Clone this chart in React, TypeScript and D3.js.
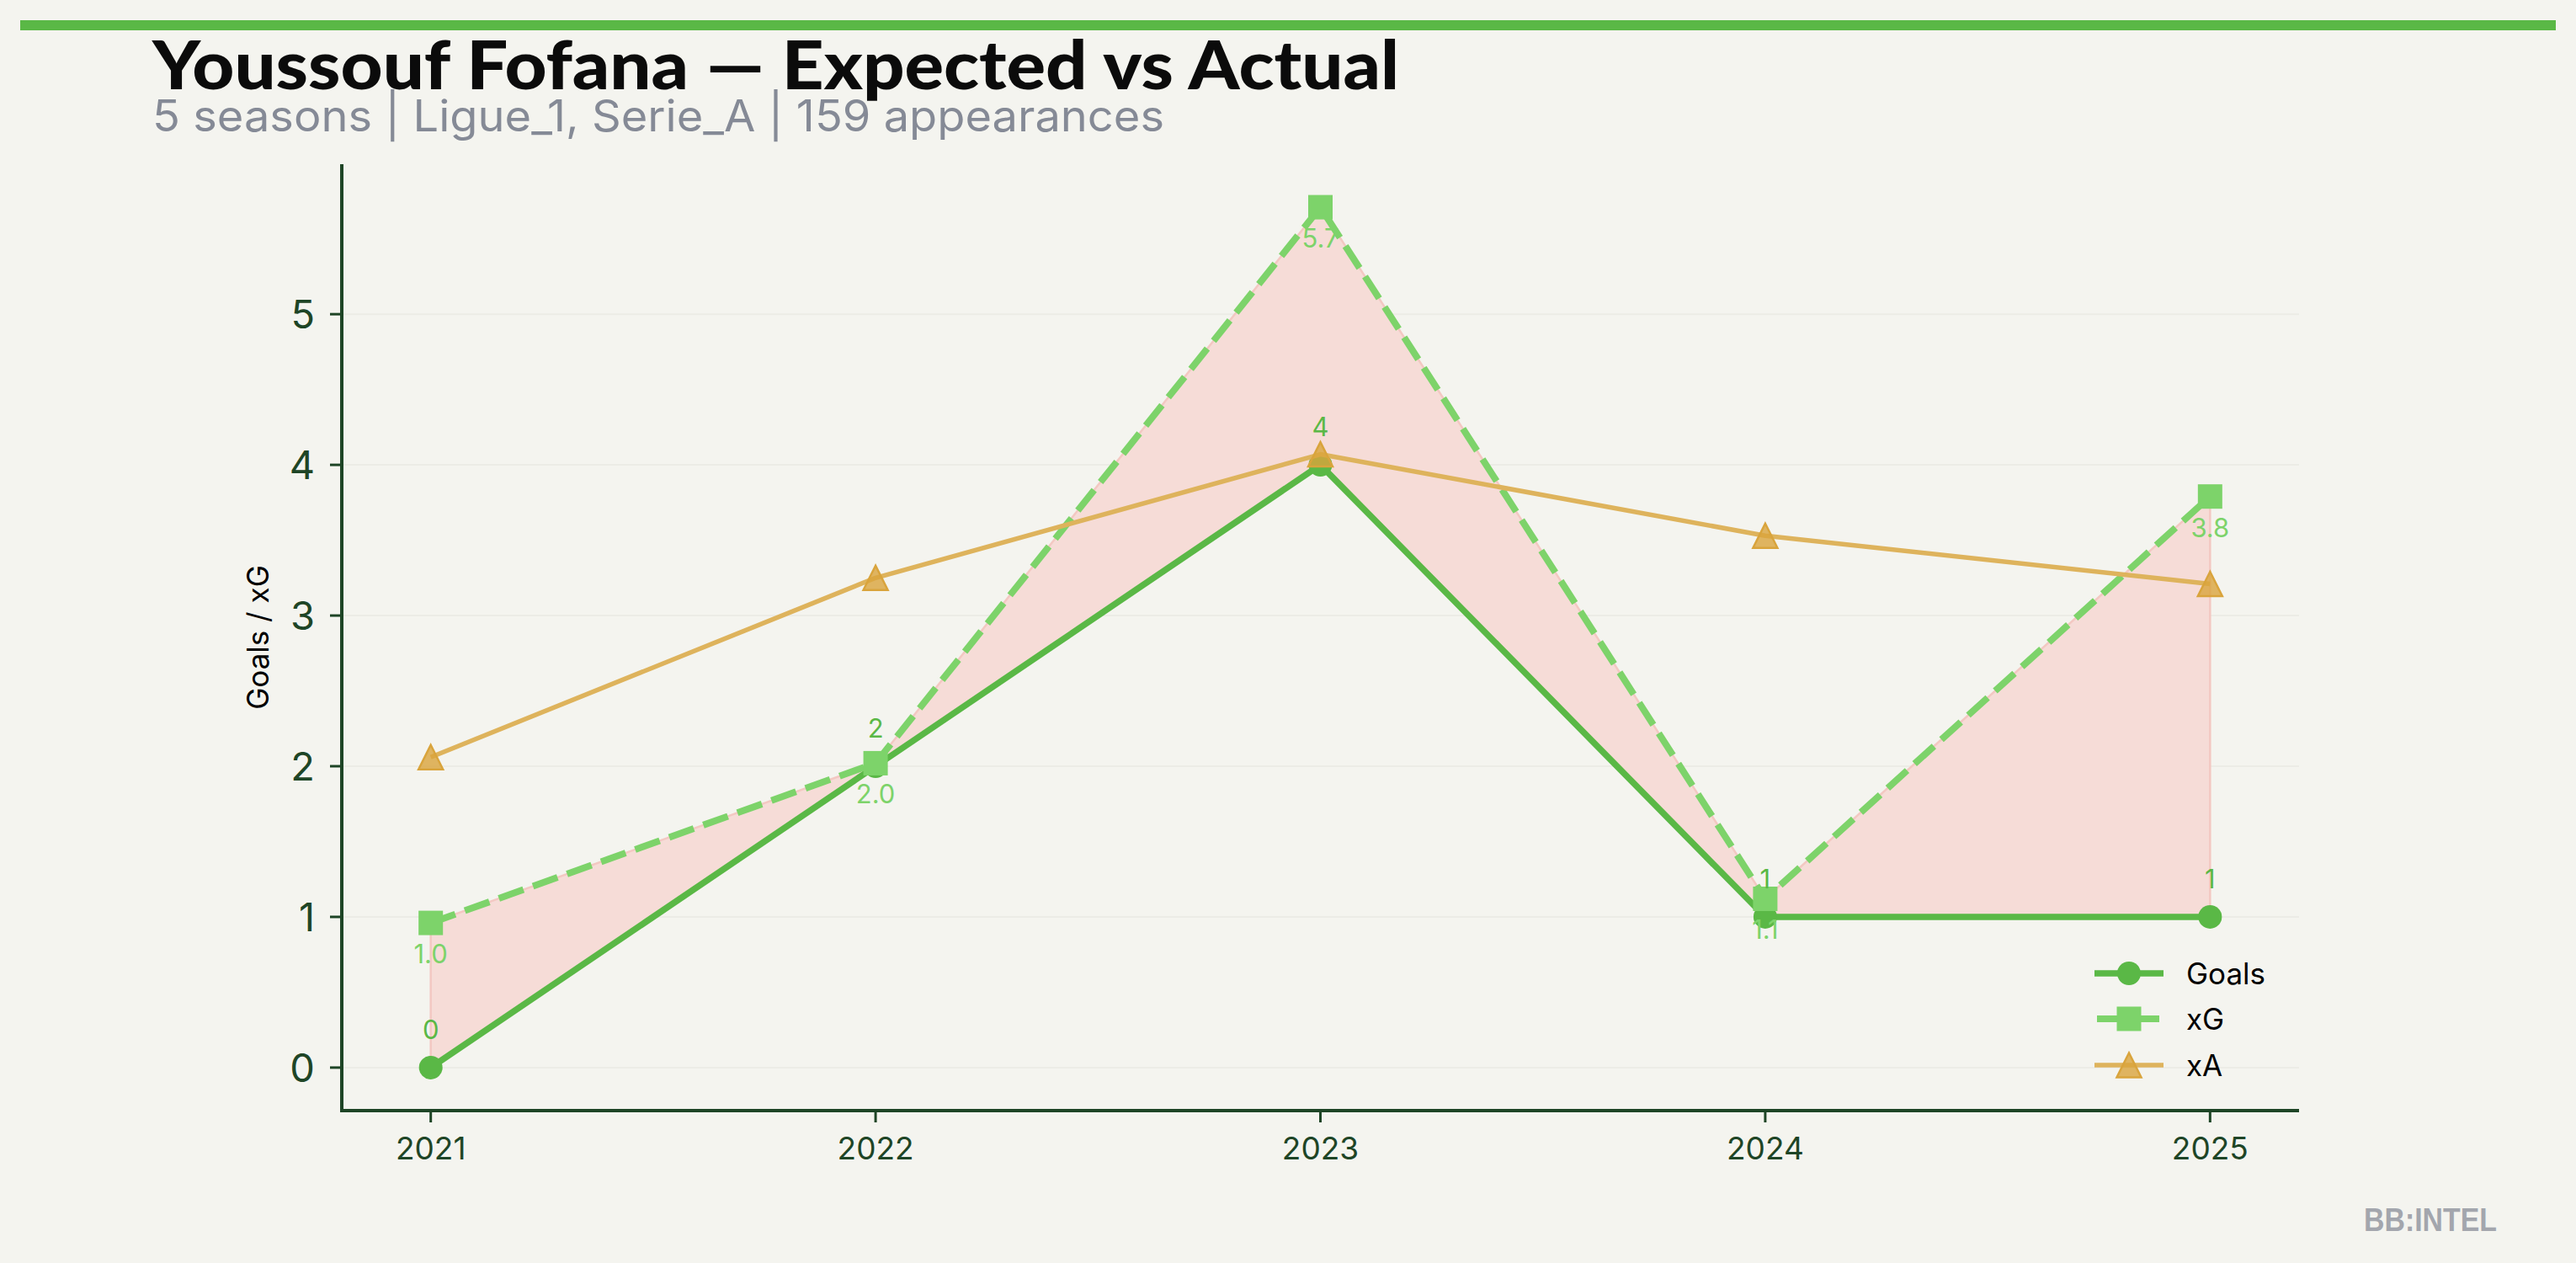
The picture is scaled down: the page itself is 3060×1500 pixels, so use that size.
import React from "react";
import * as d3 from "d3";

const YEARS = [2021, 2022, 2023, 2024, 2025];
const GOALS = [0, 2, 4, 1, 1];
const XG = [0.96, 2.02, 5.71, 1.12, 3.79];
const XA = [2.06, 3.25, 4.07, 3.53, 3.21];
const Y_TICKS = [0, 1, 2, 3, 4, 5];
const TITLE = "Youssouf Fofana — Expected vs Actual";
const SUBTITLE = "5 seasons | Ligue_1, Serie_A | 159 appearances";
const SERIES_NAMES = ["Goals", "xG", "xA"];

const W = 3060;
const H = 1500;
const BG = "#f4f4ef";
const C_GOALS = "#5ab846";
const C_XG = "#7dd36a";
const C_XA = "#deb35c";
const C_XA_MARK = "#d9a43c";
const AXIS = "#1e4526";
const FONT = "Inter, Roboto, 'Noto Sans', sans-serif";

export default function App() {
  const left = 406, right = 2731, top = 195, bottom = 1319;
  const allVals = [...GOALS, ...XG, ...XA];
  const lo = Math.min(...allVals), hi = Math.max(...allVals);
  const pad = (hi - lo) * 0.05;
  const y = d3.scaleLinear().domain([lo - pad, hi + pad]).range([bottom, top]);
  const xPad = (YEARS[YEARS.length - 1] - YEARS[0]) * 0.05;
  const x = d3.scaleLinear().domain([YEARS[0] - xPad, YEARS[YEARS.length - 1] + xPad]).range([left, right]);

  const line = d3.line<[number, number]>().x(d => x(d[0])).y(d => y(d[1]));
  const goalsPts: [number, number][] = YEARS.map((yr, i) => [yr, GOALS[i]]);
  const xgPts: [number, number][] = YEARS.map((yr, i) => [yr, XG[i]]);
  const xaPts: [number, number][] = YEARS.map((yr, i) => [yr, XA[i]]);
  const area = d3.area<number>()
    .x((_, i) => x(YEARS[i]))
    .y0((_, i) => y(GOALS[i]))
    .y1((_, i) => y(XG[i]));

  const tri = (cx: number, cy: number, s: number) =>
    `M${cx},${cy - s} L${cx - s},${cy + s} L${cx + s},${cy + s} Z`;

  const legendX0 = 2488, legendX1 = 2570, legendMid = 2529, legendText = 2597;
  const legendYs = [1156, 1210, 1265];
  const dash = "31,12";

  return (
    <svg width={W} height={H} style={{ position: "absolute", left: 0, top: 0 }} xmlns="http://www.w3.org/2000/svg">
      <defs>
        <clipPath id="clip1115">
          <rect x={0} y={0} width={W} height={1115} />
        </clipPath>
      </defs>
      <rect x={0} y={0} width={W} height={H} fill={BG} />
      <rect x={24} y={24} width={W - 48} height={12} fill={C_GOALS} />

      <text x={181} y={106} fontFamily="Lato, 'DejaVu Sans', sans-serif" fontWeight={900} fontSize={80}
        fill="#0b0b0b" textLength={1481} lengthAdjust="spacingAndGlyphs">{TITLE}</text>
      <text x={181} y={156} fontFamily={FONT} fontSize={52} fill="#858a96"
        textLength={1202} lengthAdjust="spacingAndGlyphs">{SUBTITLE}</text>

      {/* grid */}
      {Y_TICKS.map(t => (
        <line key={"g" + t} x1={left} x2={right} y1={y(t)} y2={y(t)} stroke="#ecece6" strokeWidth={2} />
      ))}

      {/* fill between */}
      <path d={area(YEARS.map((_, i) => i)) || ""} fill="#f6dcd7" stroke="#f3c8c2" strokeWidth={2.5} />

      {/* Goals */}
      <path d={line(goalsPts) || ""} fill="none" stroke={C_GOALS} strokeWidth={7.5} strokeLinejoin="round" />
      {goalsPts.map((p, i) => (
        <circle key={"gc" + i} cx={x(p[0])} cy={y(p[1])} r={14} fill={C_GOALS} />
      ))}

      {/* xG */}
      <path d={line(xgPts) || ""} fill="none" stroke={C_XG} strokeWidth={8} strokeDasharray={dash} />
      {xgPts.map((p, i) => (
        <rect key={"xs" + i} x={x(p[0]) - 14.5} y={y(p[1]) - 14.5} width={29} height={29} fill={C_XG} />
      ))}

      {/* xA */}
      <path d={line(xaPts) || ""} fill="none" stroke={C_XA} strokeWidth={5.5} strokeLinejoin="round" />
      {xaPts.map((p, i) => (
        <path key={"xt" + i} d={tri(x(p[0]), y(p[1]), 14.5)} fill={C_XA_MARK} fillOpacity={0.8}
          stroke={C_XA_MARK} strokeWidth={2.5} strokeLinejoin="miter" />
      ))}

      {/* labels */}
      {goalsPts.map((p, i) => (
        <text key={"gl" + i} x={x(p[0])} y={y(p[1]) - 34} textAnchor="middle" fontFamily={FONT}
          fontSize={31} fill={C_GOALS}>{String(GOALS[i])}</text>
      ))}
      {xgPts.map((p, i) => (
        <text key={"xl" + i} x={x(p[0])} y={y(p[1]) + 48} textAnchor="middle" fontFamily={FONT}
          fontSize={31} fill={C_XG} clipPath={YEARS[i] === 2024 ? "url(#clip1115)" : undefined}>
          {XG[i].toFixed(1)}
        </text>
      ))}

      {/* axes */}
      <line x1={left} x2={left} y1={top} y2={bottom} stroke={AXIS} strokeWidth={4} />
      <line x1={left - 2} x2={right} y1={bottom} y2={bottom} stroke={AXIS} strokeWidth={4} />
      {Y_TICKS.map(t => (
        <g key={"yt" + t}>
          <line x1={left - 14} x2={left} y1={y(t)} y2={y(t)} stroke={AXIS} strokeWidth={3} />
          <text x={374} y={y(t) + 17} textAnchor="end" fontFamily={FONT} fontSize={47} fill={AXIS}>{t}</text>
        </g>
      ))}
      {YEARS.map(yr => (
        <g key={"xt" + yr}>
          <line x1={x(yr)} x2={x(yr)} y1={bottom} y2={bottom + 14} stroke={AXIS} strokeWidth={3} />
          <text x={x(yr)} y={1377} textAnchor="middle" fontFamily={FONT} fontSize={37} fill={AXIS}>{yr}</text>
        </g>
      ))}
      <text transform={`translate(319,${(top + bottom) / 2}) rotate(-90)`} textAnchor="middle"
        fontFamily={FONT} fontSize={35} fill="#000">Goals / xG</text>

      {/* legend */}
      <g>
        <line x1={legendX0} x2={legendX1} y1={legendYs[0]} y2={legendYs[0]} stroke={C_GOALS} strokeWidth={7.5} />
        <circle cx={legendMid} cy={legendYs[0]} r={14} fill={C_GOALS} />
        <line x1={legendX0 + 3} x2={legendX1 - 4} y1={legendYs[1]} y2={legendYs[1]} stroke={C_XG} strokeWidth={8} strokeDasharray={dash} />
        <rect x={legendMid - 14.5} y={legendYs[1] - 14.5} width={29} height={29} fill={C_XG} />
        <line x1={legendX0} x2={legendX1} y1={legendYs[2]} y2={legendYs[2]} stroke={C_XA} strokeWidth={5.5} />
        <path d={tri(legendMid, legendYs[2], 14.5)} fill={C_XA_MARK} fillOpacity={0.8} stroke={C_XA_MARK} strokeWidth={2.5} />
        {SERIES_NAMES.map((n, i) => (
          <text key={"lt" + n} x={legendText} y={legendYs[i] + 13} fontFamily={FONT} fontSize={35} fill="#000">{n}</text>
        ))}
      </g>

      <text x={2808} y={1462} fontFamily="'Liberation Sans Narrow', 'Liberation Sans', sans-serif" fontWeight={700}
        fontSize={38} fill="#a3a6ad" textLength={158} lengthAdjust="spacingAndGlyphs">BB:INTEL</text>
    </svg>
  );
}
